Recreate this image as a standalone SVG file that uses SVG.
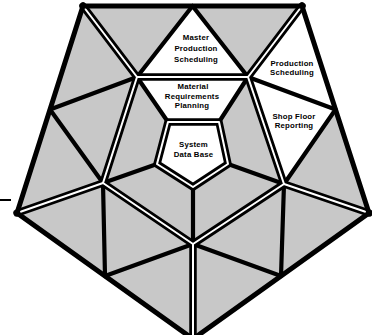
<svg xmlns="http://www.w3.org/2000/svg" width="372" height="335" viewBox="0 0 372 335">
<style>
.g{fill:#c8c8c8}
.w{fill:#fff}
.s{stroke:#000;stroke-width:4.2;fill:none;stroke-linecap:round}
.d{stroke:#000;stroke-width:7.5;fill:none;stroke-linejoin:round;stroke-linecap:round}
.gap{stroke:#fff;stroke-width:2;fill:none;stroke-linejoin:round;stroke-linecap:round}
.o{stroke:#000;stroke-width:5;fill:none;stroke-linejoin:miter}
text{font-family:"Liberation Sans",Arial,Helvetica,sans-serif;font-weight:bold;font-size:7.8px;letter-spacing:0.2px;text-anchor:middle;fill:#000}
</style>
<rect width="372" height="335" fill="#fff"/>
<g id="background">
<polygon class="g" points="83,6 302,6 369,213 193,339 17,213"/>
</g>
<g id="master-production-scheduling">
<polygon class="w" points="192.5,6 137,77 248,77"/>
<text x="196" y="40">Master</text>
<text x="196" y="51">Production</text>
<text x="196" y="61.5">Scheduling</text>
</g>
<g id="production-scheduling">
<polygon class="w" points="302,6 248,77 335.5,109.5"/>
<text x="292" y="66">Production</text>
<text x="292" y="75">Scheduling</text>
</g>
<g id="shop-floor-reporting">
<polygon class="w" points="248,77 335.5,109.5 284,184"/>
<text x="294" y="118.5">Shop Floor</text>
<text x="294" y="127.5">Reporting</text>
</g>
<g id="material-requirements-planning">
<polygon class="w" points="137,77 248,77 219,122 168,122"/>
<text x="193" y="89">Material</text>
<text x="192" y="99">Requirements</text>
<text x="192" y="108">Planning</text>
</g>
<g id="system-data-base">
<polygon class="w" points="168,122 219,122 228,164 193,187 157,164"/>
<text x="193.5" y="147">System</text>
<text x="193.5" y="157">Data Base</text>
</g>
<g id="connectors">
<g id="single-lines">
<path class="s" d="M192.5,6L137,77M192.5,6L248,77M335.5,109.5L248,77M335.5,109.5L284,184M281,276L284,184M281,276L193,244M105,276L193,244M105,276L103,183M50,109.5L103,183M50,109.5L137,77"/>
<path class="s" d="M137,77L168,122M248,77L219,122M284,184L228,164M193,244L193,187M103,183L157,164"/>
</g>
<g id="double-lines">
<path class="d" d="M83,6L137,77M302,6L248,77M369,213L284,184M193,339L193,244M17,213L103,183"/>
<polygon class="d" points="137,77 248,77 284,184 193,244 103,183"/>
<polygon class="d" points="168,122 219,122 228,164 193,187 157,164"/>
<path class="gap" d="M83,6L137,77M302,6L248,77M369,213L284,184M193,339L193,244M17,213L103,183"/>
<polygon class="gap" points="137,77 248,77 284,184 193,244 103,183"/>
<polygon class="gap" points="168,122 219,122 228,164 193,187 157,164"/>
</g>
<polygon class="o" points="83,6 302,6 369,213 193,339 17,213"/>
<line x1="0" y1="200" x2="11" y2="200" stroke="#000" stroke-width="2"/>
</g>
</svg>
